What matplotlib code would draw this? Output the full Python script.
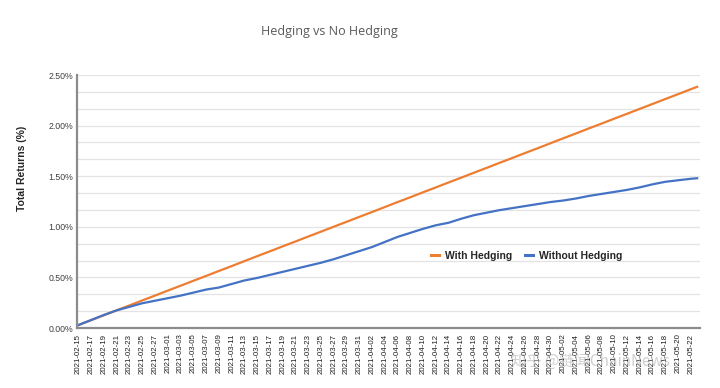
import matplotlib
matplotlib.use("Agg")
import matplotlib.pyplot as plt
import pandas as pd
import numpy as np

# ---- data ----
dates = list(pd.date_range("2021-02-15", "2021-05-22", freq="2D")) + [pd.Timestamp("2021-05-23")]

with_hedging = [0.030, 0.079, 0.127, 0.176, 0.224, 0.273, 0.321, 0.370, 0.418, 0.467,
                0.515, 0.564, 0.612, 0.661, 0.710, 0.758, 0.807, 0.855, 0.904, 0.952,
                1.001, 1.049, 1.098, 1.146, 1.195, 1.244, 1.292, 1.341, 1.389, 1.438,
                1.486, 1.535, 1.583, 1.632, 1.680, 1.729, 1.777, 1.826, 1.875, 1.923,
                1.972, 2.020, 2.069, 2.117, 2.166, 2.214, 2.263, 2.311, 2.360, 2.384]

without_hedging = [0.03, 0.08, 0.13, 0.175, 0.21, 0.245, 0.27, 0.295, 0.32, 0.35,
                   0.38, 0.40, 0.435, 0.47, 0.495, 0.525, 0.555, 0.585, 0.615, 0.645,
                   0.68, 0.72, 0.76, 0.80, 0.85, 0.90, 0.94, 0.98, 1.015, 1.04,
                   1.08, 1.115, 1.14, 1.165, 1.185, 1.205, 1.225, 1.245, 1.26, 1.28,
                   1.305, 1.325, 1.345, 1.365, 1.39, 1.42, 1.445, 1.46, 1.475, 1.48]

tick_dates = pd.date_range("2021-02-15", "2021-05-22", freq="2D")
y_major = [0.0, 0.5, 1.0, 1.5, 2.0, 2.5]

title = "Hedging vs No Hedging"
ylabel = "Total Returns (%)"
series_names = ["With Hedging", "Without Hedging"]
colors = ["#ED7D31", "#4472C4"]

plt.rcParams['font.family'] = ['Liberation Sans', 'DejaVu Sans']

fig = plt.figure(figsize=(7.2, 3.88), dpi=100)
ax = fig.add_axes([0.107, 0.1546, 0.865, 0.652])

ax.plot(dates, with_hedging, color=colors[0], lw=1.6, label=series_names[0])
ax.plot(dates, without_hedging, color=colors[1], lw=1.6, label=series_names[1])

ax.set_ylim(0, 2.5)
ax.set_xlim(pd.Timestamp("2021-02-15") - pd.Timedelta(hours=6),
            pd.Timestamp("2021-05-23") + pd.Timedelta(hours=10))
ax.set_yticks(y_major)
ax.set_yticklabels([f"{v:.2f}%" for v in y_major], fontsize=6.3, color="#404040")
ax.set_yticks(np.arange(0, 2.5001, 0.5 / 3), minor=True)
ax.grid(True, which="both", axis="y", color="#e3e3e3", lw=0.9)
ax.set_axisbelow(True)

ax.set_xticks(tick_dates)
ax.set_xticklabels([d.strftime("%Y-%m-%d") for d in tick_dates], rotation=90,
                   fontsize=5.7, color="#202020")
ax.tick_params(axis="both", which="both", length=0, pad=3)
ax.tick_params(axis="x", pad=4)

for s in ["top", "right"]:
    ax.spines[s].set_visible(False)
for s in ["left", "bottom"]:
    ax.spines[s].set_color("#8c8c8c")
    ax.spines[s].set_linewidth(1.6)

fig.text(0.458, 0.918, title, ha="center", va="center", fontsize=9, color="#595959",
         family=["Open Sans", "DejaVu Sans"])
fig.text(0.030, 0.565, ylabel, rotation=90, ha="center", va="center", fontsize=7.5,
         color="#262626", fontweight="bold")

leg = ax.legend(loc="center", bbox_to_anchor=(0.722, 0.285), ncol=2, frameon=False,
                fontsize=7.5, handlelength=0.8, handletextpad=0.6, columnspacing=1.2)
for t in leg.get_texts():
    t.set_fontweight("bold")
    t.set_color("#262626")
for h in leg.get_lines():
    h.set_linewidth(2.2)

fig.text(0.82, 0.068, "知乎 @链闻ChainNews", ha="center", va="center", fontsize=11,
         color="#b0b0b0", alpha=0.6, family=["Noto Sans CJK SC", "DejaVu Sans"])

fig.savefig("out.png", dpi=100)
